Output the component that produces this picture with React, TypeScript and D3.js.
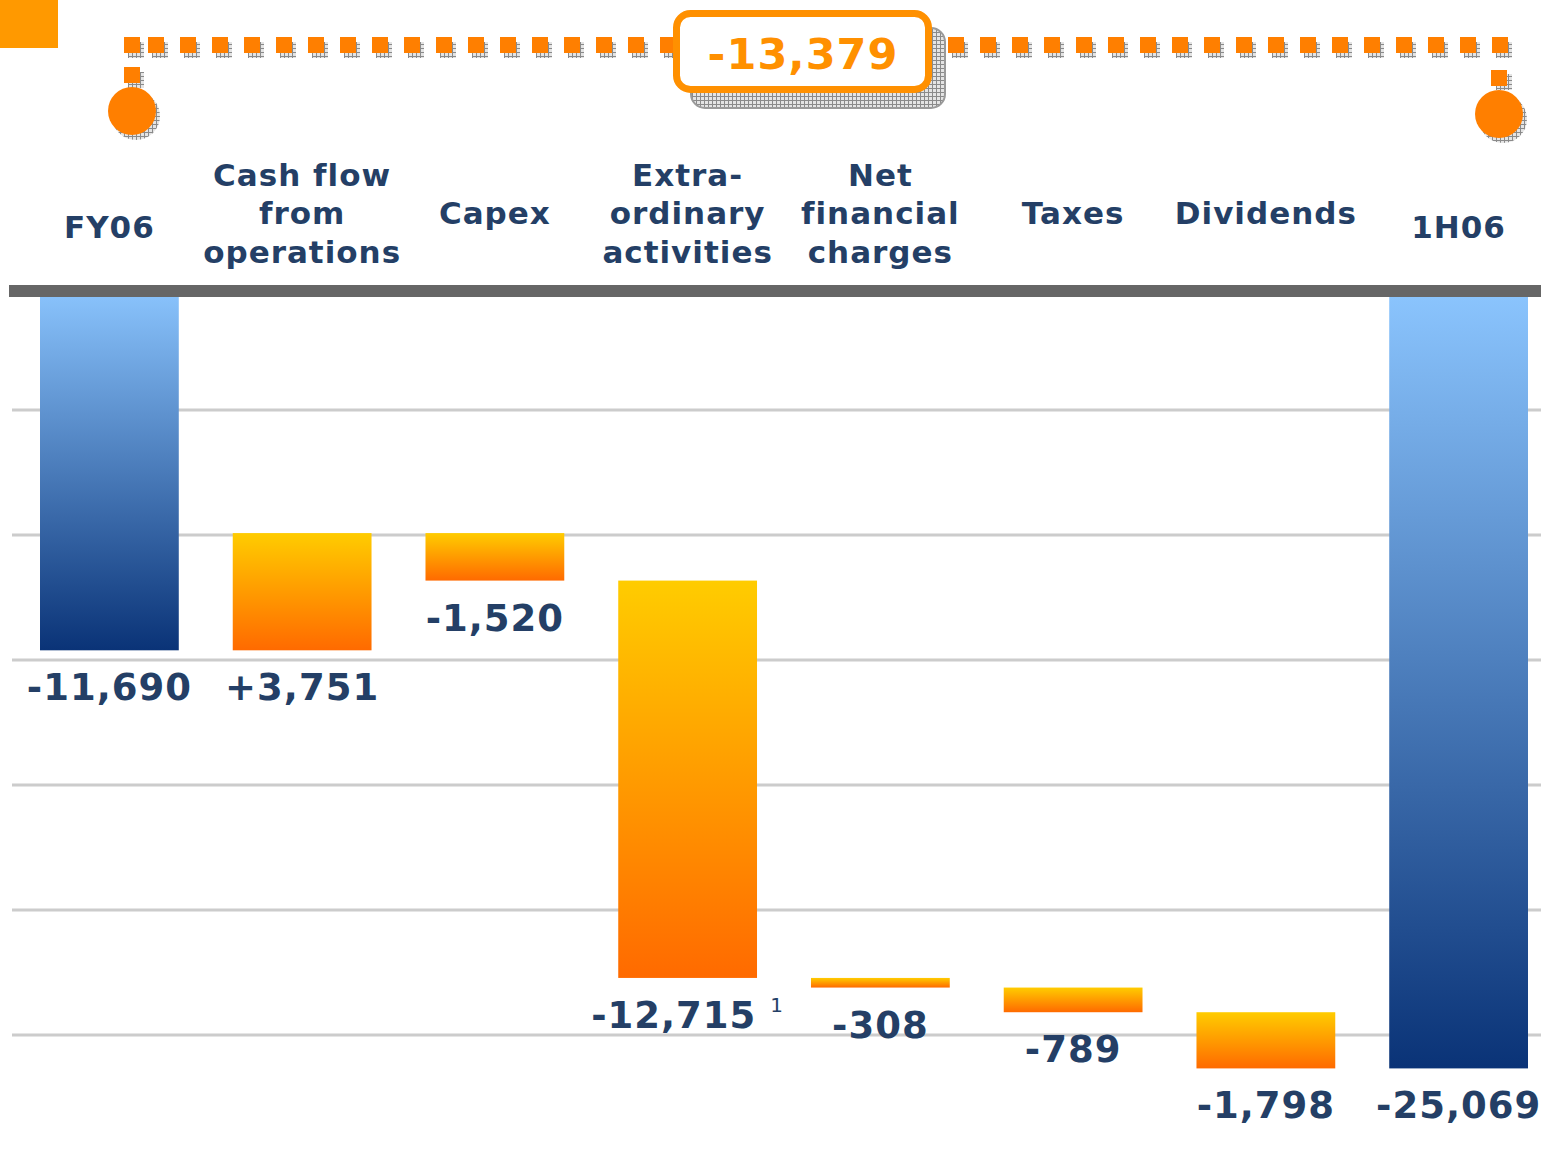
import React from 'react';
import * as d3 from 'd3';

const categories = [
  ['FY06'],
  ['Cash flow', 'from', 'operations'],
  ['Capex'],
  ['Extra-', 'ordinary', 'activities'],
  ['Net', 'financial', 'charges'],
  ['Taxes'],
  ['Dividends'],
  ['1H06'],
];
const deltas = [-11690, 3751, -1520, -12715, -308, -789, -1798, -25069];
const isTotal = [true, false, false, false, false, false, false, true];
const valueLabels = ['-11,690', '+3,751', '-1,520', '-12,715', '-308', '-789', '-1,798', '-25,069'];
const footnotes = ['', '', '', '1', '', '', '', ''];
const gridValues = [-4000, -8000, -12000, -16000, -20000, -24000];
const changeLabel = '-13,379';

const W = 1541;
const H = 1156;
const FONT = '"DejaVu Sans", Verdana, sans-serif';
const NAVY = '#243F66';
const ORANGE = '#FF7F00';

// running totals for the waterfall
let run = 0;
const bars = deltas.map((d, i) => {
  let lo, hi;
  if (isTotal[i]) {
    lo = Math.min(0, d);
    hi = Math.max(0, d);
    run = d;
  } else {
    const next = run + d;
    lo = Math.min(run, next);
    hi = Math.max(run, next);
    run = next;
  }
  return { i, lo, hi };
});

const App = () => {
  const x = d3.scaleBand<number>()
    .domain(d3.range(categories.length))
    .range([40, 1528])
    .paddingInner(0.28)
    .paddingOuter(0);

  const y = d3.scaleLinear()
    .domain([0, -24000])
    .range([285, 1035]);

  const bw = x.bandwidth();

  // dotted bracket on top
  const dotY = 37;
  const dotXs = d3.range(148, 1480, 32);

  return (
    <div style={{ position: 'absolute', left: 0, top: 0 }}>
      <svg width={W} height={H} style={{ display: 'block' }}>
        <defs>
          <linearGradient id="gOrange" x1="0" y1="0" x2="0" y2="1">
            <stop offset="0%" stopColor="#FFCC00" />
            <stop offset="100%" stopColor="#FF6A00" />
          </linearGradient>
          <linearGradient id="gBlue" x1="0" y1="0" x2="0" y2="1">
            <stop offset="0%" stopColor="#8CC6FF" />
            <stop offset="100%" stopColor="#0A3377" />
          </linearGradient>
          <pattern id="hatch" width="4" height="4" patternUnits="userSpaceOnUse">
            <rect width="4" height="4" fill="#e4e4e4" />
            <path d="M0 0.5H4M0.5 0V4" stroke="#8a8a8a" strokeWidth="1" />
          </pattern>
        </defs>

        <rect x={0} y={0} width={58} height={48} fill="#FF9900" />

        {/* gridlines */}
        {gridValues.map(v => (
          <line key={v} x1={12} x2={W} y1={y(v)} y2={y(v)} stroke="#CCCCCC" strokeWidth={3} />
        ))}

        {/* bars */}
        {bars.map(b => (
          <rect
            key={b.i}
            x={x(b.i)}
            y={y(b.hi)}
            width={bw}
            height={y(b.lo) - y(b.hi)}
            fill={isTotal[b.i] ? 'url(#gBlue)' : 'url(#gOrange)'}
          />
        ))}

        {/* top axis band */}
        <rect x={9} y={285} width={W - 9} height={12} fill="#666666" />

        {/* value labels */}
        {bars.map(b => (
          <text
            key={b.i}
            x={(x(b.i) as number) + bw / 2}
            y={y(b.lo) + 50}
            textAnchor="middle"
            fontFamily={FONT}
            fontWeight="bold"
            fontSize={37}
            letterSpacing={1}
            fill={NAVY}
          >
            {valueLabels[b.i]}
            {footnotes[b.i] && (
              <tspan dx={14} dy={-16} fontSize={20} fontWeight="normal">{footnotes[b.i]}</tspan>
            )}
          </text>
        ))}

        {/* category labels */}
        {categories.map((lines, i) => {
          const cy = isTotal[i] ? 227 : 213;
          const lh = 38.5;
          const top = cy - ((lines.length - 1) * lh) / 2;
          return (
            <text
              key={i}
              textAnchor="middle"
              fontFamily={FONT}
              fontWeight="bold"
              fontSize={31}
              letterSpacing={1}
              fill={NAVY}
            >
              {lines.map((l, j) => (
                <tspan key={j} x={(x(i) as number) + bw / 2} y={top + j * lh} dy="0.36em">{l}</tspan>
              ))}
            </text>
          );
        })}

        {/* bracket shadows */}
        <g fill="url(#hatch)">
          {[124, ...dotXs, 1492].map(d => (
            <rect key={'s' + d} x={d + 4} y={dotY + 5} width={16} height={16} />
          ))}
          <rect x={128} y={72} width={16} height={16} />
          <rect x={1496} y={74} width={16} height={16} />
          <circle cx={136} cy={116} r={24} />
          <circle cx={1503} cy={119} r={24} />
        </g>
        <g fill={ORANGE}>
          {[124, ...dotXs, 1492].map(d => (
            <rect key={d} x={d} y={dotY} width={16} height={16} />
          ))}
          <rect x={124} y={67} width={16} height={16} />
          <rect x={1491} y={70} width={16} height={16} />
          <circle cx={132} cy={111} r={24} />
          <circle cx={1499} cy={114} r={24} />
        </g>

        {/* change box */}
        <rect x={691} y={28} width={254} height={80} rx={14} fill="url(#hatch)" stroke="#9a9a9a" strokeWidth={2} />
        <rect x={676.5} y={13.5} width={252} height={76} rx={14} fill="#fff" stroke="#FF9000" strokeWidth={7} />
        <text
          x={803}
          y={54}
          dy="0.36em"
          textAnchor="middle"
          fontFamily={FONT}
          fontWeight="bold"
          fontSize={43}
          letterSpacing={1}
          fill="#FF9000"
        >
          {changeLabel}
        </text>
      </svg>
    </div>
  );
};

export default App;
